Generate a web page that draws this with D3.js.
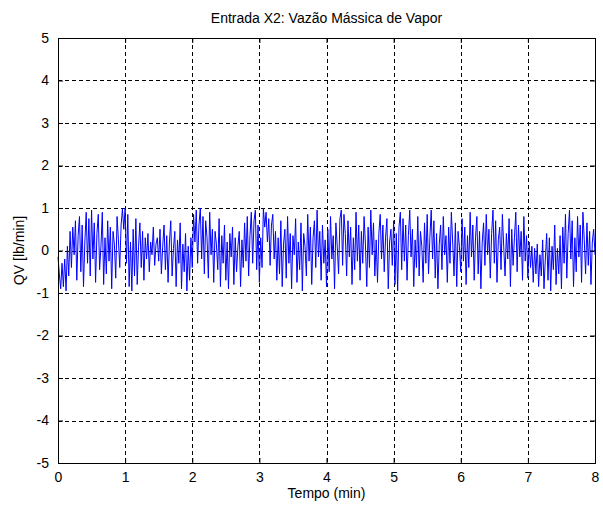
<!DOCTYPE html>
<html>
<head>
<meta charset="utf-8">
<script src="https://cdn.jsdelivr.net/npm/d3@7"></script>
<style>
  body { margin: 0; background: #fff; }
  text { font-family: "Liberation Sans", Arial, sans-serif; fill: #000; }
</style>
</head>
<body>
<div id="chart"></div>
<script>
var titleText = "Entrada X2: Vazão Mássica de Vapor"
var xLabel = "Tempo (min)"
var yLabel = "QV [lb/min]"
var xTicks = [0, 1, 2, 3, 4, 5, 6, 7, 8]
var yTicks = [-5, -4, -3, -2, -1, 0, 1, 2, 3, 4, 5]
var dt = 0.02

// QV samples, one every 0.02 min
var qv = [
  -0.15,-0.55,-0.90,-0.30,-0.85,-0.20,-0.95,0.10,-0.60,0.45,-0.40,0.55,-0.10,0.70,-0.70,0.35,0.80,-0.50,0.60,-0.85,0.20,0.90,-0.30,0.75,-0.60,
  0.95,-0.20,0.65,-0.75,0.40,0.85,-0.45,0.10,0.90,-0.80,0.30,-0.55,0.70,-0.25,0.55,-0.90,0.45,0.15,-0.65,0.80,0.25,-0.40,0.60,0.98,0.50,
  1.00,-0.30,0.85,-0.85,0.20,-0.95,0.50,-0.60,0.75,-0.80,0.10,0.65,-0.40,0.45,-0.70,0.30,-0.20,0.40,-0.50,0.20,-0.10,0.55,-0.35,0.15,0.30,
  -0.25,0.50,-0.55,0.10,0.60,-0.45,0.35,-0.75,0.20,0.70,-0.60,0.05,0.45,-0.85,0.25,-0.30,0.65,-0.90,0.15,-0.50,0.40,-0.95,0.10,-0.70,0.30,
  -0.40,0.85,0.20,0.95,-0.30,0.60,1.00,-0.20,0.80,-0.55,0.70,0.30,-0.65,0.90,-0.10,0.50,-0.75,0.45,0.15,-0.45,0.75,-0.85,0.35,-0.30,0.60,
  -0.70,0.20,-0.90,0.40,-0.15,0.55,-0.80,0.30,-0.50,0.10,0.45,-0.85,0.25,-0.40,0.65,-0.25,0.80,-0.60,0.35,0.90,-0.30,0.70,0.95,-0.45,0.60,
  -0.75,0.30,-0.40,1.00,0.55,0.90,0.20,0.75,-0.35,0.60,0.85,-0.20,0.45,-0.70,0.30,-0.55,0.70,-0.85,0.15,0.50,-0.65,0.80,-0.30,0.40,-0.90,
  0.35,-0.10,0.75,-0.75,0.20,-0.45,0.65,-0.95,0.40,0.10,-0.60,0.85,-0.25,0.55,-0.80,0.30,0.70,-0.40,0.95,-0.15,0.45,-0.70,0.60,-0.30,0.25,
  -0.85,0.50,-0.50,0.80,-0.20,0.35,-0.90,0.65,0.10,-0.55,0.75,0.95,-0.35,0.85,0.40,-0.60,0.70,-0.15,0.55,-0.80,0.30,-0.45,0.90,-0.25,0.60,
  -0.70,0.45,-0.30,0.80,0.15,-0.85,0.55,-0.40,0.95,-0.10,0.65,-0.60,0.25,-0.75,0.40,0.85,-0.20,0.60,-0.50,0.30,0.75,-0.90,0.20,0.50,-0.35,
  0.70,-0.80,0.40,-0.95,0.55,0.90,-0.45,0.75,-0.25,0.60,-0.70,0.35,0.95,-0.15,0.50,-0.85,0.25,-0.40,0.80,-0.60,0.45,0.10,-0.75,0.65,-0.30,
  0.85,-0.55,0.30,0.95,-0.20,0.70,-0.65,0.40,-0.90,0.15,0.60,-0.45,0.80,-0.10,0.35,-0.75,0.55,-0.30,0.90,0.20,-0.60,0.65,-0.85,0.45,0.10,
  -0.50,0.75,-0.25,0.55,-0.80,0.35,-0.40,0.90,-0.15,0.60,-0.70,0.30,0.80,-0.55,0.45,-0.90,0.20,0.65,-0.35,0.85,-0.10,0.50,-0.65,0.40,0.95,
  -0.30,0.70,-0.75,0.25,0.55,-0.45,0.85,0.10,-0.60,0.40,-0.20,0.75,-0.85,0.50,-0.35,0.30,0.90,-0.50,0.60,-0.15,0.45,-0.70,0.80,-0.25,0.35,
  -0.65,0.20,-0.40,0.10,-0.75,0.05,-0.55,0.15,-0.85,-0.10,-0.60,0.25,-0.90,-0.20,0.40,-0.70,0.30,-0.95,0.10,-0.45,0.60,-0.80,0.05,-0.55,0.35,
  -0.90,0.55,-0.30,0.85,-0.65,0.40,0.95,-0.20,0.70,-0.85,0.30,-0.50,0.80,-0.15,0.60,-0.75,0.90,0.25,-0.55,0.65,-0.35,0.45,-0.80,0.20,0.50,
  -0.10
]

var width = 603
var height = 505
var margin = { left: 58, right: 8, top: 38, bottom: 42 }
var w = width - margin.left - margin.right
var h = height - margin.top - margin.bottom

var svg = d3.select("#chart")
  .append("svg")
  .attr("width", width)
  .attr("height", height)

var x = d3.scaleLinear().domain([0, 8]).range([0, w])
var y = d3.scaleLinear().domain([-5, 5]).range([h, 0])

var g = svg.append("g")
  .attr("transform", "translate(" + margin.left + "," + margin.top + ")")

g.append("rect")
  .attr("width", w)
  .attr("height", h)
  .attr("fill", "#fff")

// grid
g.append("g")
  .selectAll("line")
  .data(xTicks.slice(1, -1))
  .enter().append("line")
  .attr("x1", function (d) { return Math.round(x(d)) + 0.5 })
  .attr("x2", function (d) { return Math.round(x(d)) + 0.5 })
  .attr("y1", 0)
  .attr("y2", h)
  .attr("stroke", "#000")
  .attr("stroke-dasharray", "4,3")

g.append("g")
  .selectAll("line")
  .data(yTicks.slice(1, -1))
  .enter().append("line")
  .attr("y1", function (d) { return Math.round(y(d)) + 0.5 })
  .attr("y2", function (d) { return Math.round(y(d)) + 0.5 })
  .attr("x1", 0)
  .attr("x2", w)
  .attr("stroke", "#000")
  .attr("stroke-dasharray", "4,3")

// signal
g.append("path")
  .datum(qv)
  .attr("fill", "none")
  .attr("stroke", "#0000ff")
  .attr("stroke-width", 1)
  .attr("d", d3.line()
    .x(function (d, i) { return x(i * dt) })
    .y(function (d) { return y(d) }))

// axes (ticks pointing inward like MATLAB); plain hyphen for negatives
var fmt = function (d) { return String(d) }
g.append("g")
  .attr("transform", "translate(0," + h + ")")
  .call(d3.axisBottom(x).tickValues(xTicks).tickSize(-5).tickPadding(9).tickFormat(fmt))
g.append("g")
  .call(d3.axisTop(x).tickValues(xTicks).tickSize(-5).tickFormat(""))
g.append("g")
  .call(d3.axisLeft(y).tickValues(yTicks).tickSize(-5).tickPadding(9).tickFormat(fmt))
g.append("g")
  .attr("transform", "translate(" + w + ",0)")
  .call(d3.axisRight(y).tickValues(yTicks).tickSize(-5).tickFormat(""))

svg.selectAll(".domain").attr("stroke", "#000")
svg.selectAll(".tick line").attr("stroke", "#000")
svg.selectAll(".tick text")
  .style("font-size", "14px")
  .style("font-family", "Liberation Sans, Arial, sans-serif")
  .attr("fill", "#000")

// labels
svg.append("text")
  .attr("x", margin.left + w / 2)
  .attr("y", 23)
  .attr("text-anchor", "middle")
  .style("font-size", "14px")
  .text(titleText)

svg.append("text")
  .attr("x", margin.left + w / 2)
  .attr("y", 498)
  .attr("text-anchor", "middle")
  .style("font-size", "14px")
  .text(xLabel)

svg.append("text")
  .attr("transform", "translate(24," + (margin.top + h / 2) + ") rotate(-90)")
  .attr("text-anchor", "middle")
  .style("font-size", "14px")
  .text(yLabel)
</script>
</body>
</html>
